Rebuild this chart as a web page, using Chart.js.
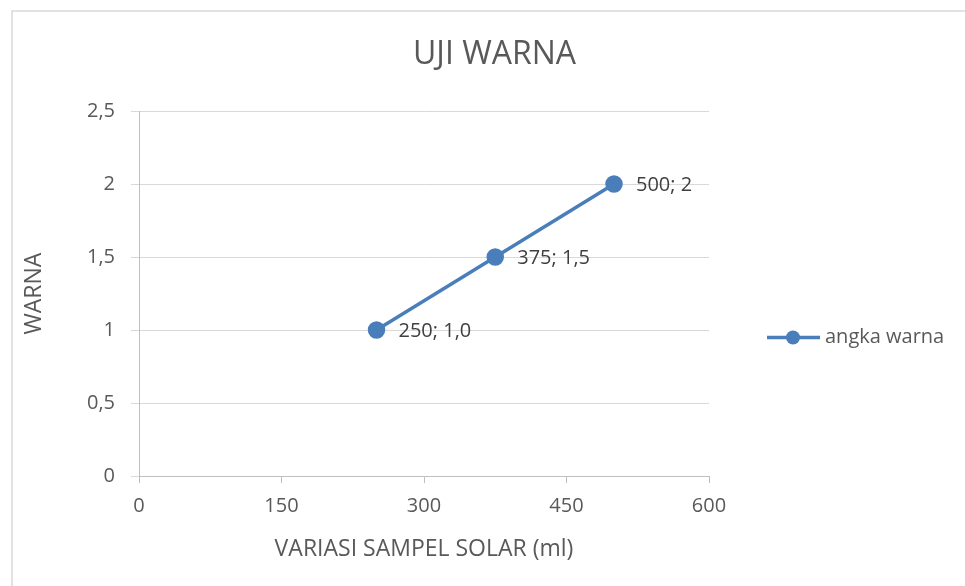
<!DOCTYPE html>
<html>
<head>
<meta charset="utf-8">
<script src="https://cdn.jsdelivr.net/npm/chart.js@4/dist/chart.umd.min.js"></script>
<style>
  html, body { margin: 0; padding: 0; background: #fff; }
  #wrap { width: 965px; height: 586px; }
</style>
</head>
<body>
<div id="wrap"><canvas id="chart" width="965" height="586"></canvas></div>
<script>
const judul = "UJI WARNA";
const sampelSolar = [250, 375, 500];
const angkaWarna = [1.0, 1.5, 2];
const labelTitik = ["250; 1,0", "375; 1,5", "500; 2"];
const xTicks = [0, 150, 300, 450, 600];
const yTicks = [0, 0.5, 1, 1.5, 2, 2.5];

const biru = "#4a7ebb";
const teks = "#595959";
const huruf = "'Open Sans', 'Noto Sans', sans-serif";

// bingkai luar + judul grafik
const bingkai = {
  id: "bingkai",
  beforeDraw(chart) {
    const ctx = chart.ctx;
    ctx.save();
    ctx.strokeStyle = "#d9d9d9";
    ctx.lineWidth = 1.5;
    ctx.strokeRect(12, 11, chart.width, chart.height);
    ctx.font = "32px " + huruf;
    ctx.fillStyle = teks;
    ctx.textAlign = "center";
    ctx.textBaseline = "middle";
    ctx.fillText(judul, chart.width / 2 + 12, 55);
    ctx.restore();
  }
};

// label data di samping titik
const labelData = {
  id: "labelData",
  afterDatasetsDraw(chart) {
    const ctx = chart.ctx;
    const meta = chart.getDatasetMeta(0);
    ctx.save();
    ctx.font = "20px " + huruf;
    ctx.fillStyle = "#404040";
    ctx.textBaseline = "middle";
    meta.data.forEach((pt, i) => {
      ctx.fillText(labelTitik[i], pt.x + 22, pt.y + 1);
    });
    ctx.restore();
  }
};

// legenda di kanan
const legenda = {
  id: "legenda",
  afterDraw(chart) {
    const ctx = chart.ctx;
    const area = chart.chartArea;
    const x0 = area.right + 58;
    const y0 = (area.top + area.bottom) / 2 + 44;
    ctx.save();
    ctx.strokeStyle = biru;
    ctx.lineWidth = 3.5;
    ctx.beginPath();
    ctx.moveTo(x0, y0);
    ctx.lineTo(x0 + 53, y0);
    ctx.stroke();
    ctx.fillStyle = biru;
    ctx.beginPath();
    ctx.arc(x0 + 26, y0, 7, 0, Math.PI * 2);
    ctx.fill();
    ctx.font = "20px " + huruf;
    ctx.fillStyle = teks;
    ctx.textBaseline = "middle";
    ctx.fillText(chart.data.datasets[0].label, x0 + 58, y0);
    ctx.restore();
  }
};

const dataTitik = sampelSolar.map((x, i) => ({ x: x, y: angkaWarna[i] }));

new Chart(document.getElementById("chart"), {
  type: "line",
  data: {
    datasets: [{
      label: "angka warna",
      data: dataTitik,
      borderColor: biru,
      backgroundColor: biru,
      borderWidth: 3.5,
      pointRadius: 7,
      pointHoverRadius: 7,
      fill: false,
      tension: 0
    }]
  },
  options: {
    responsive: false,
    animation: false,
    layout: { padding: { left: 17, right: 256, top: 111, bottom: 19 } },
    plugins: {
      legend: { display: false },
      tooltip: { enabled: false },
      title: { display: false }
    },
    scales: {
      x: {
        type: "linear",
        min: 0,
        max: 600,
        afterBuildTicks(scale) { scale.ticks = xTicks.map(v => ({ value: v })); },
        afterFit(scale) { scale.height = 91; },
        grid: { drawOnChartArea: false, drawTicks: true, tickLength: 7, color: "#bfbfbf" },
        border: { color: "#bfbfbf", width: 1 },
        ticks: { color: teks, padding: 11, font: { family: huruf, size: 20 } },
        title: {
          display: true,
          text: "VARIASI SAMPEL SOLAR (ml)",
          color: teks,
          font: { family: huruf, size: 23 },
          padding: { top: 4, bottom: 4 }
        }
      },
      y: {
        min: 0,
        max: 2.5,
        afterBuildTicks(scale) { scale.ticks = yTicks.map(v => ({ value: v })); },
        afterFit(scale) { scale.width = 122; },
        grid: { color: "#d9d9d9", tickLength: 8 },
        border: { color: "#bfbfbf", width: 1 },
        ticks: {
          color: teks,
          padding: 16,
          font: { family: huruf, size: 20 },
          callback: v => String(v).replace(".", ",")
        },
        title: {
          display: true,
          text: "WARNA",
          color: teks,
          font: { family: huruf, size: 23 },
          padding: { top: 4, bottom: 4 }
        }
      }
    }
  },
  plugins: [bingkai, labelData, legenda]
});
</script>
</body>
</html>
